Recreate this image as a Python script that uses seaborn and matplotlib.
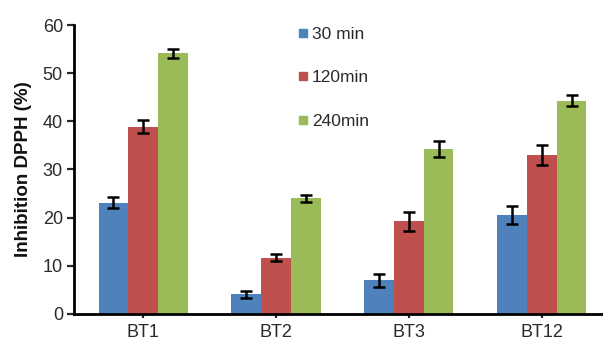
import numpy as np
import pandas as pd
import matplotlib
matplotlib.use("Agg")
import matplotlib.pyplot as plt
import seaborn as sns
from matplotlib.lines import Line2D

# Samples and incubation times
samples = ["BT1", "BT2", "BT3", "BT12"]
times = ["30 min", "120min", "240min"]

# DPPH inhibition (%) per time point, with standard deviations
inhib_30 = [23.1, 4.1, 7.0, 20.6]
inhib_120 = [38.9, 11.7, 19.2, 33.0]
inhib_240 = [54.1, 24.0, 34.3, 44.3]
sd_30 = [1.1, 0.7, 1.3, 1.9]
sd_120 = [1.3, 0.8, 2.0, 2.0]
sd_240 = [1.0, 0.8, 1.7, 1.1]

colors = ["#4F81BD", "#C0504D", "#9BBB59"]

values = [inhib_30, inhib_120, inhib_240]
errors = [sd_30, sd_120, sd_240]

df = pd.DataFrame({
    "sample": [s for _ in times for s in samples],
    "time": [t for t in times for _ in samples],
    "value": [v for series in values for v in series],
})

sns.set_style("white")
plt.rcParams["font.family"] = ["Liberation Sans", "DejaVu Sans"]

fig = plt.figure(figsize=(6.03, 3.45), dpi=100)
ax = fig.add_axes([0.1227, 0.09, 0.8773, 0.8375])

sns.barplot(data=df, x="sample", y="value", hue="time", order=samples,
            hue_order=times, palette=colors, errorbar=None, width=0.67,
            gap=0, saturation=1, ax=ax, legend=False, linewidth=0)

for container, err in zip(ax.containers, errors):
    xs = [p.get_x() + p.get_width() / 2 for p in container.patches]
    ys = [p.get_height() for p in container.patches]
    ax.errorbar(xs, ys, yerr=err, fmt="none", ecolor="black",
                elinewidth=1.8, capsize=4.3, capthick=1.8, zorder=5)

ax.set_xlim(-0.52, 3.46)
ax.set_ylim(0, 60)
ax.set_yticks(np.arange(0, 61, 10))
ax.set_xlabel("")
ax.set_ylabel("Inhibition DPPH (%)", fontsize=13.5, fontweight="bold",
              color="#111111", labelpad=8)

for side in ("top", "right"):
    ax.spines[side].set_visible(False)
for side in ("left", "bottom"):
    ax.spines[side].set_linewidth(2)
    ax.spines[side].set_color("black")

ax.tick_params(axis="y", which="major", direction="out", length=5, width=1.6,
               labelsize=13, labelcolor="#2a2a2a", left=True, pad=3)
ax.tick_params(axis="x", which="major", direction="out", length=3, width=1.6,
               labelsize=13, labelcolor="#2a2a2a", bottom=True, pad=4)

handles = [Line2D([], [], marker="s", linestyle="none", markersize=6,
                  markerfacecolor=c, markeredgecolor=c) for c in colors]
fig.legend(handles, times, loc="upper left", bbox_to_anchor=(0.483, 0.942),
           frameon=False, fontsize=12.5, handlelength=0.55, handletextpad=0.25,
           labelspacing=1.62, borderaxespad=0, labelcolor="#2a2a2a")

fig.savefig("out.png", dpi=100)
